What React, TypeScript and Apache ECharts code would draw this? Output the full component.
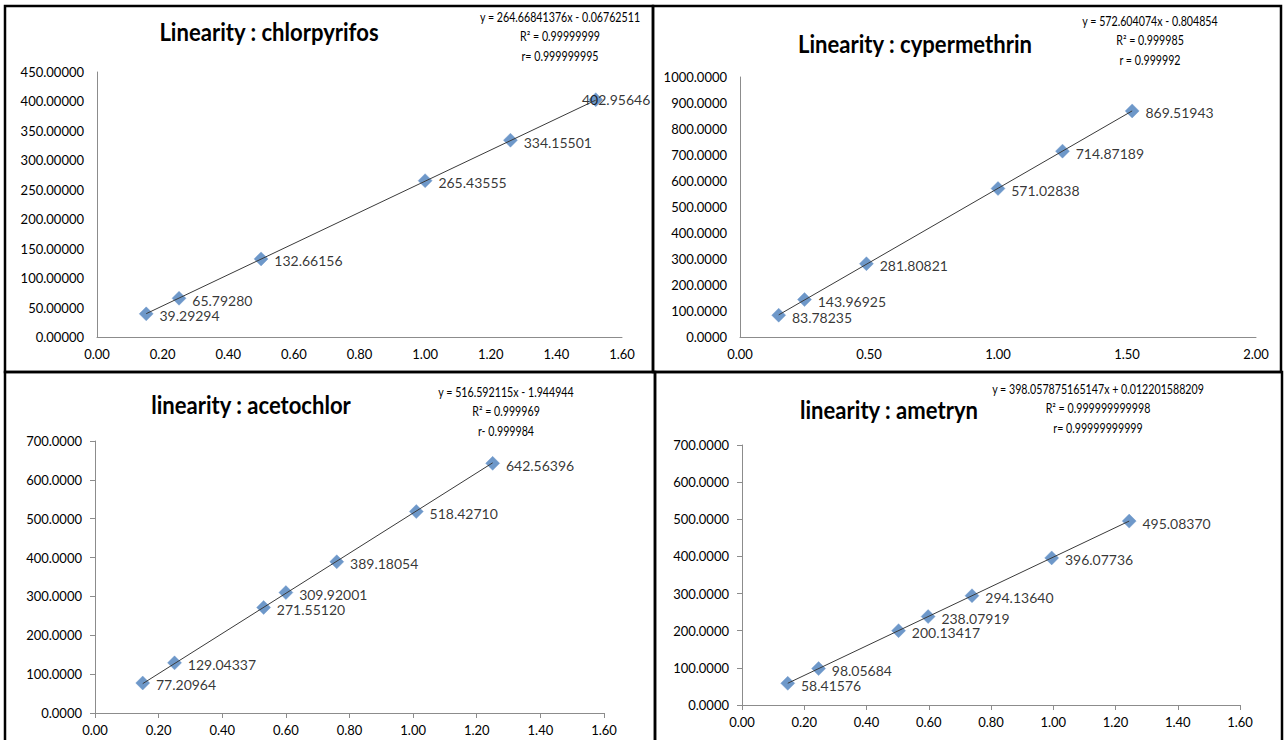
import React, { useEffect, useRef } from "react";
import * as echarts from "echarts";

const FONT = "Lato, 'Noto Sans', sans-serif";

// ---- data ----
const chlorX = [0.15, 0.25, 0.5, 1.0, 1.26, 1.52];
const chlorY = [39.29294, 65.7928, 132.66156, 265.43555, 334.15501, 402.95646];

const cyperX = [0.15, 0.25, 0.49, 1.0, 1.25, 1.52];
const cyperY = [83.78235, 143.96925, 281.80821, 571.02838, 714.87189, 869.51943];

const acetoX = [0.15, 0.25, 0.53, 0.6, 0.76, 1.01, 1.25];
const acetoY = [77.20964, 129.04337, 271.5512, 309.92001, 389.18054, 518.4271, 642.56396];

const ametX = [0.147, 0.246, 0.503, 0.598, 0.739, 0.995, 1.244];
const ametY = [58.41576, 98.05684, 200.13417, 238.07919, 294.1364, 396.07736, 495.0837];

// trendline coefficients (as printed on the chart)
const slopes = [264.66841376, 572.604074, 516.592115, 398.057875165147];
const intercepts = [-0.06762511, -0.804854, -1.944944, 0.012201588209];

const titles = [
  "Linearity : chlorpyrifos",
  "Linearity : cypermethrin",
  "linearity : acetochlor",
  "linearity : ametryn",
];

const equations = [
  ["y = 264.66841376x - 0.06762511", "R² = 0.99999999", "r= 0.999999995"],
  ["y = 572.604074x - 0.804854", "R² = 0.999985", "r = 0.999992"],
  ["y = 516.592115x - 1.944944", "R² = 0.999969", "r- 0.999984"],
  ["y = 398.057875165147x + 0.012201588209", "R² = 0.999999999998", "r= 0.99999999999"],
];

// axis ranges
const xMax = [1.6, 2.0, 1.6, 1.6];
const xStep = [0.2, 0.5, 0.2, 0.2];
const yMax = [450, 1000, 700, 700];
const yStep = [50, 100, 100, 100];
const yDecimals = [5, 4, 4, 4];

export default function App() {
  const ref = useRef<HTMLDivElement>(null);
  useEffect(() => {
    const chart = echarts.init(ref.current!, null, { renderer: "svg" });

    const xs = [chlorX, cyperX, acetoX, ametX];
    const ys = [chlorY, cyperY, acetoY, ametY];

    // layout (pixels)
    const grids = [
      { left: 97, top: 72, width: 525, height: 265 },
      { left: 740, top: 77, width: 516, height: 260 },
      { left: 95, top: 441, width: 509, height: 272 },
      { left: 742, top: 445, width: 498, height: 260 },
    ];
    const titlePos = [
      [269, 32],
      [915, 44],
      [251, 405],
      [889, 410],
    ];
    const eqPos = [
      [560, 17],
      [1150, 21],
      [506, 392],
      [1098, 389],
    ];
    const ticks = [false, false, true, true];

    const xAxis: any[] = [];
    const yAxis: any[] = [];
    const series: any[] = [];
    const graphic: any[] = [];

    for (let i = 0; i < 4; i++) {
      xAxis.push({
        type: "value",
        gridIndex: i,
        min: 0,
        max: xMax[i],
        interval: xStep[i],
        axisLine: { show: true, lineStyle: { color: "#8c8c8c", width: 1 } },
        axisTick: { show: ticks[i], inside: false, length: 5, lineStyle: { color: "#8c8c8c" } },
        splitLine: { show: false },
        axisLabel: {
          color: "#000",
          fontFamily: FONT,
          fontSize: 13,
          margin: 10,
          formatter: (v: number) => v.toFixed(2),
        },
      });
      yAxis.push({
        type: "value",
        gridIndex: i,
        min: 0,
        max: yMax[i],
        interval: yStep[i],
        axisLine: { show: true, lineStyle: { color: "#8c8c8c", width: 1 } },
        axisTick: { show: ticks[i], inside: false, length: 5, lineStyle: { color: "#8c8c8c" } },
        splitLine: { show: false },
        axisLabel: {
          color: "#000",
          fontFamily: FONT,
          fontSize: 13,
          margin: 13,
          formatter: (v: number) => v.toFixed(yDecimals[i]),
        },
      });

      const pts = xs[i].map((x, k) => {
        const item: any = { value: [x, ys[i][k]] };
        if (i === 0 && k === xs[i].length - 1) {
          item.label = { offset: [-27, 0] };
        }
        return item;
      });

      series.push({
        type: "scatter",
        xAxisIndex: i,
        yAxisIndex: i,
        data: pts,
        symbol: "diamond",
        symbolSize: 14,
        itemStyle: { color: "#4a7ebb", borderColor: "#6b96cc", borderWidth: 0.5 },
        label: {
          show: true,
          position: "right",
          distance: 6,
          offset: [0, 2],
          color: "#000",
          fontFamily: FONT,
          fontSize: 14,
          formatter: (p: any) => p.value[1].toFixed(5),
        },
        z: 2,
      });

      const xmin = Math.min(...xs[i]);
      const xmaxv = Math.max(...xs[i]);
      series.push({
        type: "line",
        xAxisIndex: i,
        yAxisIndex: i,
        data: [
          [xmin, slopes[i] * xmin + intercepts[i]],
          [xmaxv, slopes[i] * xmaxv + intercepts[i]],
        ],
        symbol: "none",
        silent: true,
        lineStyle: { color: "#3a3a3a", width: 1 },
        z: 3,
      });

      graphic.push({
        type: "text",
        x: titlePos[i][0],
        y: titlePos[i][1],
        scaleX: 0.92,
        style: {
          text: titles[i],
          fill: "#000",
          font: `bold 24px ${FONT}`,
          textAlign: "center",
          textVerticalAlign: "middle",
        },
      });
      equations[i].forEach((line, k) => {
        graphic.push({
          type: "text",
          x: eqPos[i][0],
          y: eqPos[i][1] + k * 19.5,
          scaleX: 0.82,
          style: {
            text: line,
            fill: "#000",
            font: `13px ${FONT}`,
            textAlign: "center",
            textVerticalAlign: "middle",
          },
        });
      });
    }

    // panel borders
    const boxes = [
      [5, 6, 648, 366],
      [653, 6, 628, 366],
      [5, 372, 650, 372],
      [655, 372, 627, 372],
    ];
    boxes.forEach((b) => {
      graphic.push({
        type: "rect",
        shape: { x: b[0], y: b[1], width: b[2], height: b[3] },
        style: { fill: "none", stroke: "#000", lineWidth: 2.5 },
        z: 10,
      });
    });

    chart.setOption({
      animation: false,
      backgroundColor: "#fff",
      grid: grids,
      xAxis,
      yAxis,
      series,
      graphic,
    });
    return () => chart.dispose();
  }, []);
  return (
    <div
      ref={ref}
      style={{ position: "fixed", left: 0, top: 0, width: 1284, height: 740, background: "#fff" }}
    />
  );
}
